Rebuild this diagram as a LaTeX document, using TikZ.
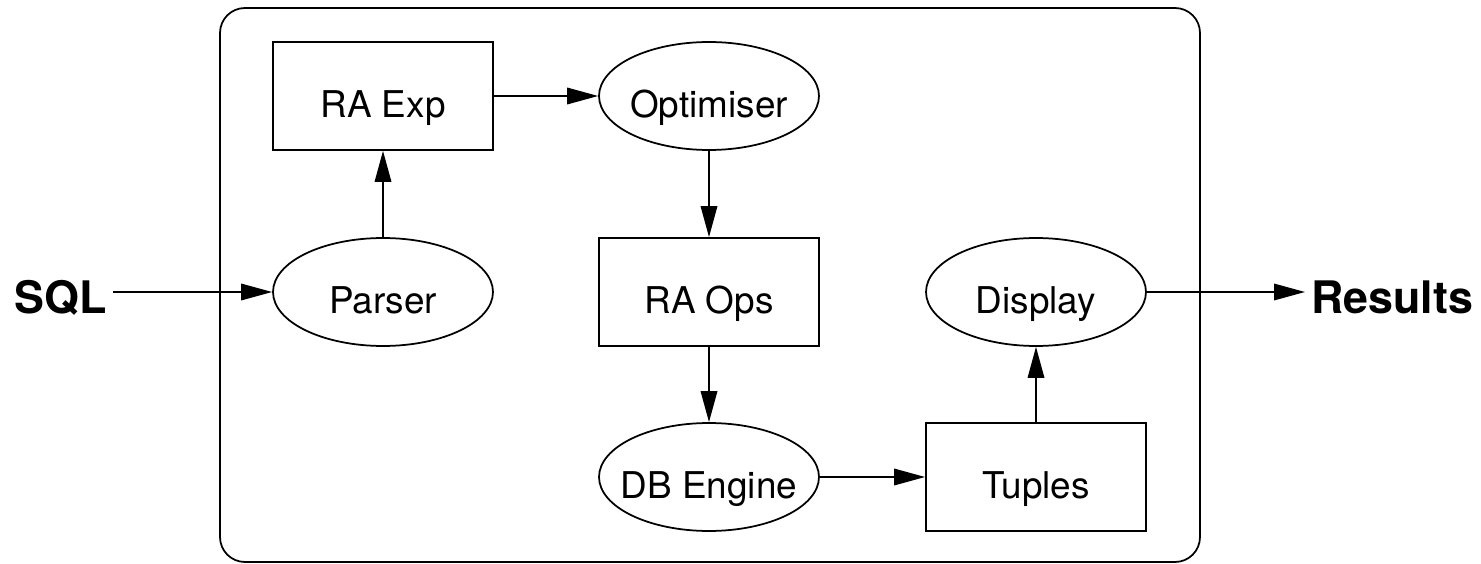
\documentclass[tikz,border=0pt]{standalone}
\usepackage{fontspec}
\setmainfont{TeX Gyre Heros}
\usetikzlibrary{shapes.geometric,arrows.meta}

\begin{document}
\begin{tikzpicture}[x=0.02cm,y=-0.02cm,
        box/.style={draw,rectangle,line width=1pt,minimum width=4.4cm,minimum height=2.16cm,inner sep=0pt,
            text height=24.4pt,text depth=0pt,font=\fontsize{21}{25}\selectfont},
        proc/.style={box,ellipse,inner xsep=-1cm},
        ends/.style={font=\fontsize{25.5}{30}\selectfont\bfseries,text height=25pt,text depth=0pt},
        flow/.style={-{Triangle[length=0.62cm,width=0.33cm]},line width=1pt}]
        \useasboundingbox (0,0) rectangle (1481,564);
        \draw[line width=1pt,rounded corners=0.5cm] (220,8) rectangle (1200,562);
        \node[box] (raexp) at (383,96) {RA Exp};
        \node[proc] (optimiser) at (709,96) {Optimiser};
        \node[proc] (parser) at (383,292) {Parser};
        \node[box] (raops) at (709,292) {RA Ops};
        \node[proc] (display) at (1036,292) {Display};
        \node[proc] (dbengine) at (709,477) {DB Engine};
        \node[box] (tuples) at (1036,477) {Tuples};
        \node[ends,anchor=east] (sql) at (113,292) {SQL};
        \node[ends,anchor=west] (results) at (1305,292) {Results};

        \draw[flow] (sql) -- (parser);
        \draw[flow] (parser) -- (raexp);
        \draw[flow] (raexp) -- (optimiser);
        \draw[flow] (optimiser) -- (raops);
        \draw[flow] (raops) -- (dbengine);
        \draw[flow] (dbengine) -- (tuples);
        \draw[flow] (tuples) -- (display);
        \draw[flow] (display) -- (results);
\end{tikzpicture}
\end{document}
